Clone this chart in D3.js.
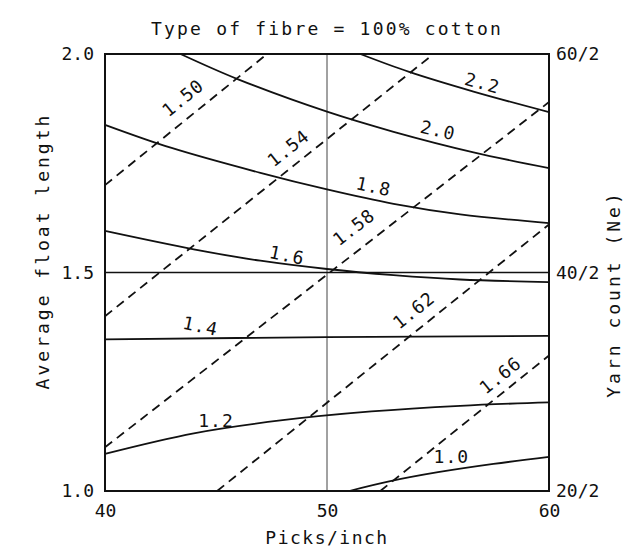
<!DOCTYPE html>
<html>
<head>
<meta charset="utf-8">
<script src="https://cdn.jsdelivr.net/npm/d3@7"></script>
<style>
body { margin: 0; background: #fff; }
text { font-family: "DejaVu Sans Mono", monospace; fill: #111; }
</style>
</head>
<body>
<svg id="chart" width="642" height="548"></svg>
<script>
// Data
var pickTicks = [40, 50, 60];
var floatTicks = [1.0, 1.5, 2.0];
var countTicks = [20, 40, 60];

// solid contours, points are [picks/inch, average float length]
var solidNames = ["2.2", "2.0", "1.8", "1.6", "1.4", "1.2", "1.0"];
var solid22 = [[51.5, 2.0], [53.7, 1.959], [56.6, 1.914], [60, 1.867]];
var solid20 = [[43.4, 2.0], [46, 1.942], [50, 1.868], [53, 1.822], [56.6, 1.775], [60, 1.739]];
var solid18 = [[40, 1.838], [43, 1.785], [47, 1.728], [50, 1.690], [53, 1.657], [56, 1.633], [60, 1.613]];
var solid16 = [[40, 1.595], [44, 1.553], [47, 1.527], [50, 1.508], [53, 1.494], [56, 1.484], [60, 1.478]];
var solid14 = [[40, 1.347], [50, 1.352], [60, 1.355]];
var solid12 = [[40, 1.085], [44, 1.132], [48, 1.162], [52, 1.182], [56, 1.195], [60, 1.203]];
var solid10 = [[51.0, 1.0], [52.8, 1.022], [55, 1.043], [57.5, 1.062], [60, 1.078]];

// dashed contours (straight lines)
var dashedNames = ["1.50", "1.54", "1.58", "1.62", "1.66"];
var dashed150 = [[40, 1.70], [47.3, 2.0]];
var dashed154 = [[40, 1.40], [54.8, 2.0]];
var dashed158 = [[40, 1.10], [60, 1.89]];
var dashed162 = [[45.05, 1.0], [60, 1.61]];
var dashed166 = [[52.4, 1.0], [60, 1.31]];

// label spots in data units
var solidLabelX = [57.0, 55.0, 52.1, 48.2, 44.3, 45.0, 55.6];
var solidLabelY = [1.934, 1.826, 1.697, 1.54, 1.378, 1.162, 1.078];
var solidLabelAngle = [15, 13, 12, 12, 12, 0, 0];
var dashedLabelX = [43.5, 48.25, 51.2, 53.9, 57.8];
var dashedLabelY = [1.90, 1.785, 1.604, 1.414, 1.265];

// Setup
const margin = { top: 54, bottom: 57, left: 105, right: 93 };
var width = 642 - margin.left - margin.right;
var height = 548 - margin.top - margin.bottom;

var svg = d3.select("#chart");
var plot = svg.append("g")
  .attr("transform", `translate(${margin.left}, ${margin.top})`);

const xscale = d3.scaleLinear().domain([40, 60]).range([0, width]);
const yscale = d3.scaleLinear().domain([1.0, 2.0]).range([height, 0]);
const yscale_count = d3.scaleLinear().domain([20, 60]).range([height, 0]);

// Axes
var xaxis = d3.axisBottom(xscale).tickValues(pickTicks).tickSize(0).tickPadding(13);
var yaxis = d3.axisLeft(yscale).tickValues(floatTicks).tickSize(0).tickPadding(11).tickFormat(d3.format(".1f"));
var yaxis_right = d3.axisRight(yscale_count).tickValues(countTicks).tickSize(0).tickPadding(7).tickFormat(d => d + "/2");

function styleAxis(g) {
  g.select(".domain").remove();
  g.selectAll("text")
    .style("font-family", "DejaVu Sans Mono, monospace")
    .style("font-size", "18px")
    .attr("fill", "#111");
}

plot.append("g").attr("transform", `translate(0,${height})`).call(xaxis).call(styleAxis);
plot.append("g").call(yaxis).call(styleAxis);
plot.append("g").attr("transform", `translate(${width},0)`).call(yaxis_right).call(styleAxis);

// reference lines
plot.append("line")
  .attr("x1", xscale(50)).attr("x2", xscale(50))
  .attr("y1", 0).attr("y2", height)
  .attr("stroke", "#444").attr("stroke-width", 1);
plot.append("line")
  .attr("x1", 0).attr("x2", width)
  .attr("y1", yscale(1.5)).attr("y2", yscale(1.5))
  .attr("stroke", "#111").attr("stroke-width", 1.6);

var line = d3.line()
  .x(d => xscale(d[0]))
  .y(d => yscale(d[1]))
  .curve(d3.curveCatmullRom);

var solids = [solid22, solid20, solid18, solid16, solid14, solid12, solid10];
var dashes = [dashed150, dashed154, dashed158, dashed162, dashed166];

plot.selectAll("path.solid")
  .data(solids)
  .enter()
  .append("path")
  .attr("class", "solid")
  .attr("d", line)
  .attr("fill", "none")
  .attr("stroke", "#111")
  .attr("stroke-width", 1.8);

plot.selectAll("path.dashed")
  .data(dashes)
  .enter()
  .append("path")
  .attr("class", "dashed")
  .attr("d", d3.line().x(d => xscale(d[0])).y(d => yscale(d[1])))
  .attr("fill", "none")
  .attr("stroke", "#111")
  .attr("stroke-width", 1.8)
  .attr("stroke-dasharray", "9,6");

// frame
plot.append("rect")
  .attr("width", width)
  .attr("height", height)
  .attr("fill", "none")
  .attr("stroke", "#111")
  .attr("stroke-width", 2);

// contour labels
solidNames.forEach(function(name, i) {
  plot.append("text")
    .attr("transform", `translate(${xscale(solidLabelX[i])},${yscale(solidLabelY[i])}) rotate(${solidLabelAngle[i]})`)
    .attr("text-anchor", "middle")
    .attr("dominant-baseline", "central")
    .style("font-size", "18px")
    .style("letter-spacing", "1px")
    .text(name);
});

dashedNames.forEach(function(name, i) {
  var p = dashes[i];
  var angle = Math.atan2(yscale(p[1][1]) - yscale(p[0][1]), xscale(p[1][0]) - xscale(p[0][0])) * 180 / Math.PI;
  plot.append("text")
    .attr("transform", `translate(${xscale(dashedLabelX[i])},${yscale(dashedLabelY[i])}) rotate(${angle})`)
    .attr("text-anchor", "middle")
    .attr("dominant-baseline", "central")
    .style("font-size", "18px")
    .style("letter-spacing", "1px")
    .text(name);
});

// titles
svg.append("text")
  .attr("x", 327)
  .attr("y", 35)
  .attr("text-anchor", "middle")
  .style("font-size", "18px")
  .style("letter-spacing", "2.2px")
  .text("Type of fibre = 100% cotton");

svg.append("text")
  .attr("x", margin.left + width / 2)
  .attr("y", 544)
  .attr("text-anchor", "middle")
  .style("font-size", "18px")
  .style("letter-spacing", "1.5px")
  .text("Picks/inch");

svg.append("text")
  .attr("transform", `translate(42, 251) rotate(-90)`)
  .attr("text-anchor", "middle")
  .attr("dominant-baseline", "central")
  .style("font-size", "18px")
  .style("letter-spacing", "3px")
  .text("Average float length");

svg.append("text")
  .attr("transform", `translate(613, 294) rotate(-90)`)
  .attr("text-anchor", "middle")
  .attr("dominant-baseline", "central")
  .style("font-size", "18px")
  .style("letter-spacing", "3px")
  .text("Yarn count (Ne)");
</script>
</body>
</html>
